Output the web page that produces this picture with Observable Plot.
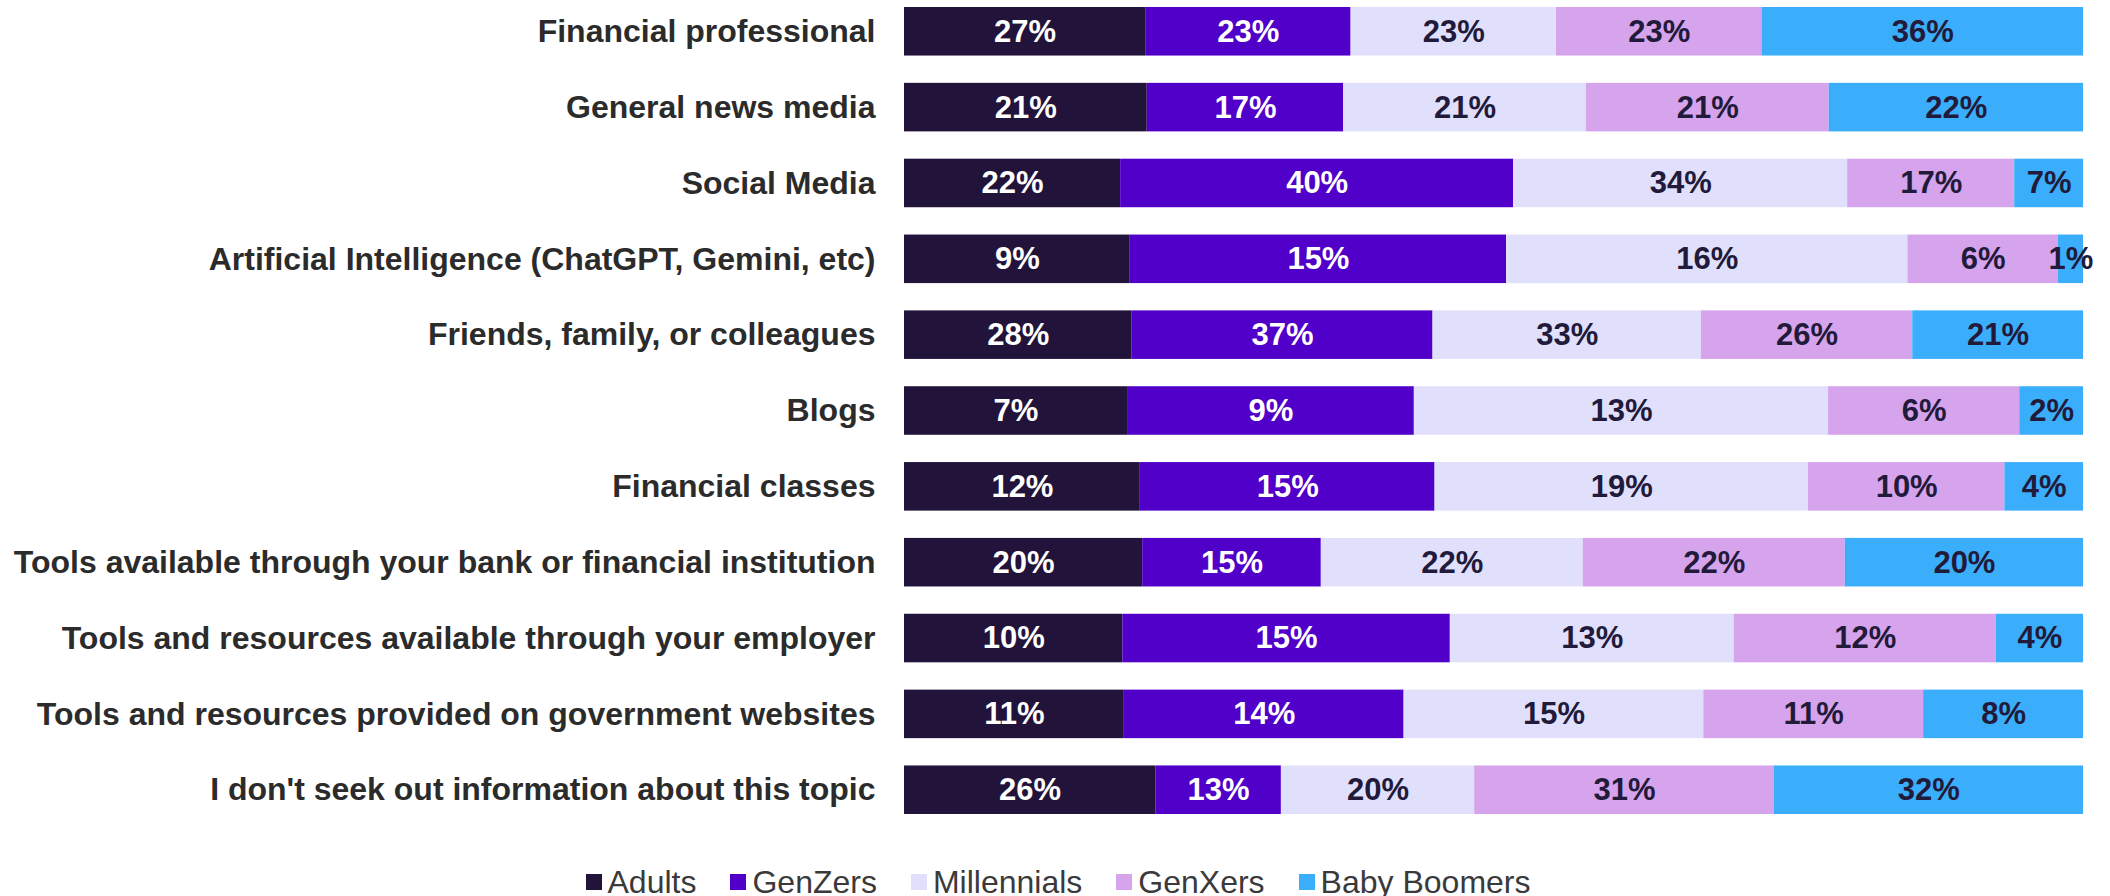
<!DOCTYPE html>
<html>
<head>
<meta charset="utf-8">
<script src="https://cdn.jsdelivr.net/npm/d3@7"></script>
<script src="https://cdn.jsdelivr.net/npm/@observablehq/plot@0.6"></script>
<style>
  body { margin: 0; background: #fff; font-family: "Liberation Sans", Arial, sans-serif; }
  #legend { display: flex; justify-content: center; gap: 34px; margin-top: 16px; font-size: 32px; line-height: 32px; color: #3a3a3a; padding-left: 6px; }
  #legend .item { display: flex; align-items: center; }
  #legend .sw { width: 16px; height: 16px; margin-right: 6px; }
</style>
</head>
<body>
<div id="chart"></div>
<div id="legend"></div>
<script>
const categories = [
  "Financial professional",
  "General news media",
  "Social Media",
  "Artificial Intelligence (ChatGPT, Gemini, etc)",
  "Friends, family, or colleagues",
  "Blogs",
  "Financial classes",
  "Tools available through your bank or financial institution",
  "Tools and resources available through your employer",
  "Tools and resources provided on government websites",
  "I don't seek out information about this topic"
];
const series = ["Adults", "GenZers", "Millennials", "GenXers", "Baby Boomers"];
const colors = ["#22133b", "#5000c8", "#e1e0fc", "#d6a4ec", "#3aaefa"];
const adults      = [27, 21, 22, 9, 28, 7, 12, 20, 10, 11, 26];
const genZers     = [23, 17, 40, 15, 37, 9, 15, 15, 15, 14, 13];
const millennials = [23, 21, 34, 16, 33, 13, 19, 22, 13, 15, 20];
const genXers     = [23, 21, 17, 6, 26, 6, 10, 22, 12, 11, 31];
const boomers     = [36, 22, 7, 1, 21, 2, 4, 20, 4, 8, 32];
const seriesValues = [adults, genZers, millennials, genXers, boomers];

const data = [];
categories.forEach((c, i) => {
  series.forEach((s, j) => {
    data.push({category: c, series: s, value: seriesValues[j][i]});
  });
});

const lightText = new Set(["Adults", "GenZers"]);

const chart = Plot.plot({
  width: 2110,
  height: 850,
  marginLeft: 904,
  marginRight: 27,
  marginTop: 7,
  marginBottom: 36,
  style: {fontFamily: "'Liberation Sans', Arial, sans-serif", background: "#fff"},
  x: {axis: null},
  y: {domain: categories, paddingInner: 0.36, paddingOuter: 0, round: false, label: null},
  color: {domain: series, range: colors},
  marks: [
    Plot.barX(data, Plot.stackX({offset: "normalize", x: "value", y: "category", z: "series", fill: "series", order: series})),
    Plot.text(data, Plot.stackX({
      offset: "normalize", x: "value", y: "category", z: "series", order: series,
      text: d => d.value + "%",
      fill: d => lightText.has(d.series) ? "#ffffff" : "#221a3a",
      fontSize: 31, fontWeight: "bold"
    })),
    Plot.axisY({tickSize: 0, tickPadding: 29, fontSize: 32, fontWeight: "bold", fill: "#2b2b2b", label: null})
  ]
});
document.getElementById("chart").appendChild(chart);

const legend = document.getElementById("legend");
series.forEach((s, j) => {
  const item = document.createElement("div");
  item.className = "item";
  const sw = document.createElement("span");
  sw.className = "sw";
  sw.style.background = colors[j];
  const t = document.createElement("span");
  t.textContent = s;
  item.appendChild(sw);
  item.appendChild(t);
  legend.appendChild(item);
});
</script>
</body>
</html>
